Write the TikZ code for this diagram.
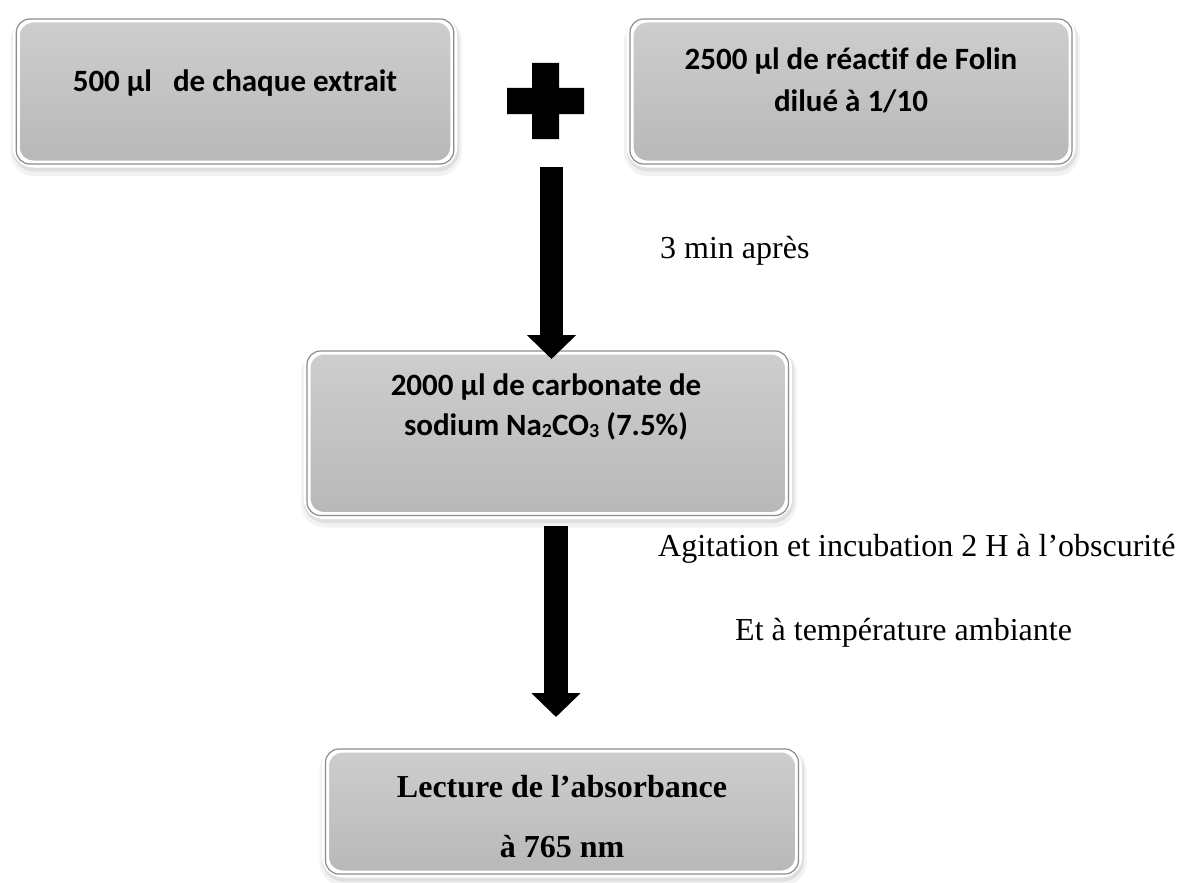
\documentclass[tikz,border=0pt]{standalone}
\usepackage{fontspec}
\setmainfont{Liberation Serif}
\newfontfamily\calib[Ligatures={NoCommon}]{Carlito}
\usetikzlibrary{arrows.meta,shadows}
\definecolor{boxtop}{RGB}{206,206,206}
\definecolor{boxbot}{RGB}{184,184,184}
\definecolor{rimc}{RGB}{140,140,140}
\tikzset{
  stepbox/.style={rounded corners=17pt, draw=white, line width=7pt,
    top color=boxtop, bottom color=boxbot, inner sep=0pt,
    preaction={draw=black, opacity=0.05, line width=14pt, transform canvas={xshift=1pt,yshift=-5pt}},
    preaction={draw=black, opacity=0.08, line width=9pt, transform canvas={xshift=1pt,yshift=-3pt}}},
  bevel/.style={draw=rimc, line width=1.2pt, rounded corners=13.5pt},
  ctext/.style={font=\calib\bfseries\fontsize{31}{41}\selectfont, anchor=base, inner sep=0pt},
  ttext/.style={font=\bfseries\fontsize{32}{40}\selectfont, anchor=base, inner sep=0pt},
  lbl/.style={font=\fontsize{32}{38}\selectfont, anchor=base west, inner sep=0pt},
  blockarrow/.style={draw=black, line width=23.5pt, -{Triangle[width=48pt,length=24pt]}},
}
\newcommand{\subd}[1]{\raisebox{-2.5pt}{\fontsize{20}{20}\selectfont #1}}
\begin{document}
\begin{tikzpicture}[x=1pt,y=-1pt]
\useasboundingbox (0,0) rectangle (1179,883);
% boxes
\node[stepbox, minimum width=437.5pt, minimum height=145pt] (b1) at (235,91.5) {};
\node[stepbox, minimum width=442pt, minimum height=145pt] (b2) at (851,91.5) {};
\node[stepbox, minimum width=481.5pt, minimum height=164.5pt] (b3) at (547.75,433.25) {};
\node[stepbox, minimum width=473pt, minimum height=125pt] (b4) at (562,811.5) {};
\foreach \b in {b1,b2,b3,b4}{
  \draw[bevel] ([xshift=3.5pt,yshift=-3.5pt]\b.north west) rectangle ([xshift=-3.5pt,yshift=3.5pt]\b.south east);
}
% box texts
\node[ctext] (t1) at (235,92) {500 µl\ \ \ de chaque extrait};
\node[ctext] (t2a) at (851,70) {2500 µl de réactif de Folin};
\node[ctext] (t2b) at (851,112) {dilué à 1/10};
\node[ctext] (t3a) at (546,395) {2000 µl de carbonate de};
\node[ctext] (t3b) at (546,435) {sodium Na\subd{2}CO\subd{3} (7.5\%)};
\node[ttext] (t4a) at (562,797) {Lecture de l’absorbance};
\node[ttext] (t4b) at (562,857) {à 765 nm};
% plus sign
\fill[black] (532,63) -- (559,63) -- (559,88) -- (584,88) -- (584,114) -- (559,114)
  -- (559,139) -- (532,139) -- (532,114) -- (507,114) -- (507,88) -- (532,88) -- cycle;
% arrows
\coordinate (a1s) at (551.5,167);
\coordinate (a1e) at (551.5,359);
\coordinate (a2s) at (556,526);
\coordinate (a2e) at (556,717);
\draw[blockarrow] (a1s) -- (a1e);
\draw[blockarrow] (a2s) -- (a2e);
% labels
\node[lbl] (l1) at (660,258) {3 min après};
\node[lbl] (l2) at (658,556) {Agitation et incubation 2 H à l’obscurité};
\node[lbl] (l3) at (735,640) {Et à température ambiante};
\end{tikzpicture}
\end{document}
